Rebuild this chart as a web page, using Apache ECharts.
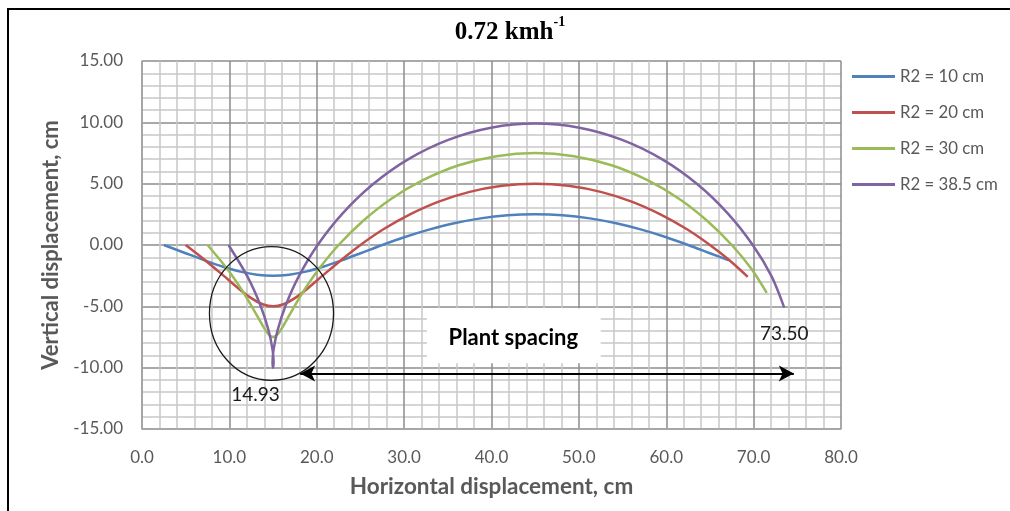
<!DOCTYPE html>
<html><head><meta charset="utf-8">
<script src="https://cdn.jsdelivr.net/npm/echarts@6/dist/echarts.min.js"></script>
<style>html,body{margin:0;padding:0;background:#fff}#c{width:1010px;height:511px}</style>
</head><body><div id="c"></div>
<script>
const chartTitle = '0.72 kmh';
const seriesNames = ['R2 = 10 cm', 'R2 = 20 cm', 'R2 = 30 cm', 'R2 = 38.5 cm'];
const seriesColors = ['#4F81BD', '#C0504D', '#9BBB59', '#8064A2'];
const r10 = [[2.5,0],[4.92,-0.65],[7.17,-1.25],[9.27,-1.77],[11.25,-2.17],[13.15,-2.42],[15,-2.5],[16.85,-2.42],[18.75,-2.17],[20.73,-1.77],[22.84,-1.25],[25.09,-0.65],[27.5,0],[30.09,0.65],[32.84,1.25],[35.73,1.77],[38.75,2.17],[41.85,2.42],[45,2.5],[48.15,2.42],[51.25,2.17],[54.27,1.77],[57.17,1.25],[59.92,0.65],[62.5,0],[64.92,-0.65],[67.17,-1.25]];
const r20 = [[5,0],[7.33,-1.3],[9.33,-2.5],[11.04,-3.54],[12.5,-4.33],[13.8,-4.83],[15,-5],[16.2,-4.83],[17.5,-4.33],[18.96,-3.54],[20.67,-2.5],[22.67,-1.3],[25,0],[27.67,1.3],[30.67,2.5],[33.96,3.54],[37.5,4.33],[41.2,4.83],[45,5],[48.8,4.83],[52.5,4.33],[56.04,3.54],[59.33,2.5],[62.33,1.3],[65,0],[67.33,-1.3],[69.33,-2.6]];
const r30 = [[7.5,0],[9.74,-1.94],[11.5,-3.75],[12.8,-5.3],[13.75,-6.5],[14.44,-7.24],[15,-7.5],[15.56,-7.24],[16.25,-6.5],[17.2,-5.3],[18.5,-3.75],[20.26,-1.94],[22.5,0],[25.26,1.94],[28.5,3.75],[32.2,5.3],[36.25,6.5],[40.56,7.24],[45,7.5],[49.44,7.24],[53.75,6.5],[57.8,5.3],[61.5,3.75],[64.74,1.94],[67.5,0],[69.74,-1.94],[71.5,-3.9]];
const r385 = [[9.9,0],[12.06,-2.56],[13.57,-4.95],[14.5,-7.0],[14.95,-8.57],[15.06,-9.56],[15,-10],[14.94,-9.56],[15.05,-8.57],[15.5,-7.0],[16.43,-4.95],[17.94,-2.56],[20.1,0],[22.94,2.56],[26.43,4.95],[30.5,7.0],[35.05,8.57],[39.94,9.56],[45,9.9],[50.06,9.56],[54.95,8.57],[59.5,7.0],[63.57,4.95],[67.06,2.56],[69.9,0],[72.06,-2.56],[73.5,-5.1]];
const seriesData = [r10, r20, r30, r385];
const xRange = [0, 80, 10];
const yRange = [-15, 15, 5];
const cuspLabel = '14.93';
const endLabel = '73.50';
const spacingLabel = 'Plant spacing';

const chart = echarts.init(document.getElementById('c'), null, {renderer: 'canvas'});
const axisFont = 'Lato, "Open Sans", sans-serif';
const gridBox = {left: 142, right: 169, top: 61, bottom: 82};

const option = {
  animation: false,
  backgroundColor: '#fff',
  title: {
    text: '{a|' + chartTitle + '}{b|-1}',
    left: 505, top: 10, textAlign: 'center',
    textStyle: {
      rich: {
        a: {fontFamily: '"Liberation Serif", serif', fontWeight: 'bold', fontSize: 25, lineHeight: 30, color: '#000', verticalAlign: 'bottom'},
        b: {fontFamily: '"Liberation Serif", serif', fontWeight: 'bold', fontSize: 14, lineHeight: 16, color: '#000', verticalAlign: 'top'}
      }
    }
  },
  legend: {
    orient: 'vertical', left: 847, top: 63,
    itemWidth: 43, itemHeight: 14, itemGap: 19,
    textStyle: {fontFamily: axisFont, fontSize: 16.8, color: '#595959'},
    data: seriesNames.map((n, i) => ({name: n, icon: 'path://M0,6 L43,6 L43,9 L0,9 Z', itemStyle: {color: seriesColors[i]}}))
  },
  grid: gridBox,
  xAxis: {
    type: 'value', min: xRange[0], max: xRange[1], interval: xRange[2],
    name: 'Horizontal displacement, cm', nameLocation: 'middle', nameGap: 46,
    nameTextStyle: {fontFamily: axisFont, fontWeight: 'bold', fontSize: 22.5, color: '#595959'},
    axisLine: {show: true, onZero: false, lineStyle: {color: '#a6a6a6', width: 1.5}},
    axisTick: {show: false},
    axisLabel: {margin: 20, formatter: v => v.toFixed(1), fontFamily: axisFont, fontSize: 17, color: '#595959'},
    splitLine: {show: true, lineStyle: {color: '#8c8c8c', width: 1.5}},
    minorTick: {show: false, splitNumber: 5},
    minorSplitLine: {show: true, lineStyle: {color: '#c8c8c8', width: 1.5}}
  },
  yAxis: {
    type: 'value', min: yRange[0], max: yRange[1], interval: yRange[2],
    name: 'Vertical displacement, cm', nameLocation: 'middle', nameGap: 72,
    nameTextStyle: {fontFamily: axisFont, fontWeight: 'bold', fontSize: 22, color: '#595959'},
    axisLine: {show: true, onZero: false, lineStyle: {color: '#a6a6a6', width: 1.5}},
    axisTick: {show: false},
    axisLabel: {margin: 19, formatter: v => v.toFixed(2), fontFamily: axisFont, fontSize: 17, color: '#595959'},
    splitLine: {show: true, lineStyle: {color: '#8c8c8c', width: 1.5}},
    minorTick: {show: false, splitNumber: 5},
    minorSplitLine: {show: true, lineStyle: {color: '#c8c8c8', width: 1.5}}
  },
  series: seriesData.map((d, i) => ({
    name: seriesNames[i], type: 'line', data: d, symbol: 'none', smooth: 0.3,
    color: seriesColors[i],
    lineStyle: {color: seriesColors[i], width: 2.5},
    z: 3
  })).concat([{
    name: 'arrow', type: 'line', data: [], silent: true,
    markLine: {
      silent: true, symbol: ['arrow', 'arrow'], symbolSize: [12, 15],
      label: {show: false},
      lineStyle: {color: '#000', width: 1.8, type: 'solid'},
      data: [[{coord: [18.1, -10.47]}, {coord: [74.6, -10.47]}]]
    }
  }])
};
chart.setOption(option);

function px(p) { return chart.convertToPixel({gridIndex: 0}, p); }
const c = px([14.82, -5.58]);
const boxA = px([32.6, -5.15]);
const boxB = px([52.5, -9.65]);
const tPlant = px([42.5, -7.54]);
const tCusp = px([13.0, -12.19]);
const tEnd = px([73.5, -7.21]);
const sx = px([1, 0])[0] - px([0, 0])[0];
const sy = px([0, 0])[1] - px([0, 1])[1];
chart.setOption({
  graphic: [
    {type: 'rect', shape: {x: 8, y: 9, width: 1100, height: 600}, style: {fill: 'none', stroke: '#000', lineWidth: 2}, z: 100, silent: true},
    {type: 'ellipse', shape: {cx: c[0], cy: c[1], rx: 7.1 * sx, ry: 5.45 * sy}, style: {fill: 'none', stroke: '#1a1a1a', lineWidth: 1.3}, z: 100, silent: true},
    {type: 'rect', shape: {x: boxA[0], y: boxA[1], width: boxB[0] - boxA[0], height: boxB[1] - boxA[1]}, style: {fill: '#fff'}, z: 99, silent: true},
    {type: 'text', x: tPlant[0], y: tPlant[1], style: {text: spacingLabel, fontFamily: axisFont, fontWeight: 'bold', fontSize: 22, fill: '#000', align: 'center', verticalAlign: 'middle'}, z: 101, silent: true},
    {type: 'text', x: tCusp[0], y: tCusp[1], style: {text: cuspLabel, fontFamily: axisFont, fontSize: 19, fill: '#1a1a1a', align: 'center', verticalAlign: 'middle'}, z: 101, silent: true},
    {type: 'text', x: tEnd[0], y: tEnd[1], style: {text: endLabel, fontFamily: axisFont, fontSize: 19, fill: '#1a1a1a', align: 'center', verticalAlign: 'middle'}, z: 101, silent: true}
  ]
});
</script>
</body></html>
